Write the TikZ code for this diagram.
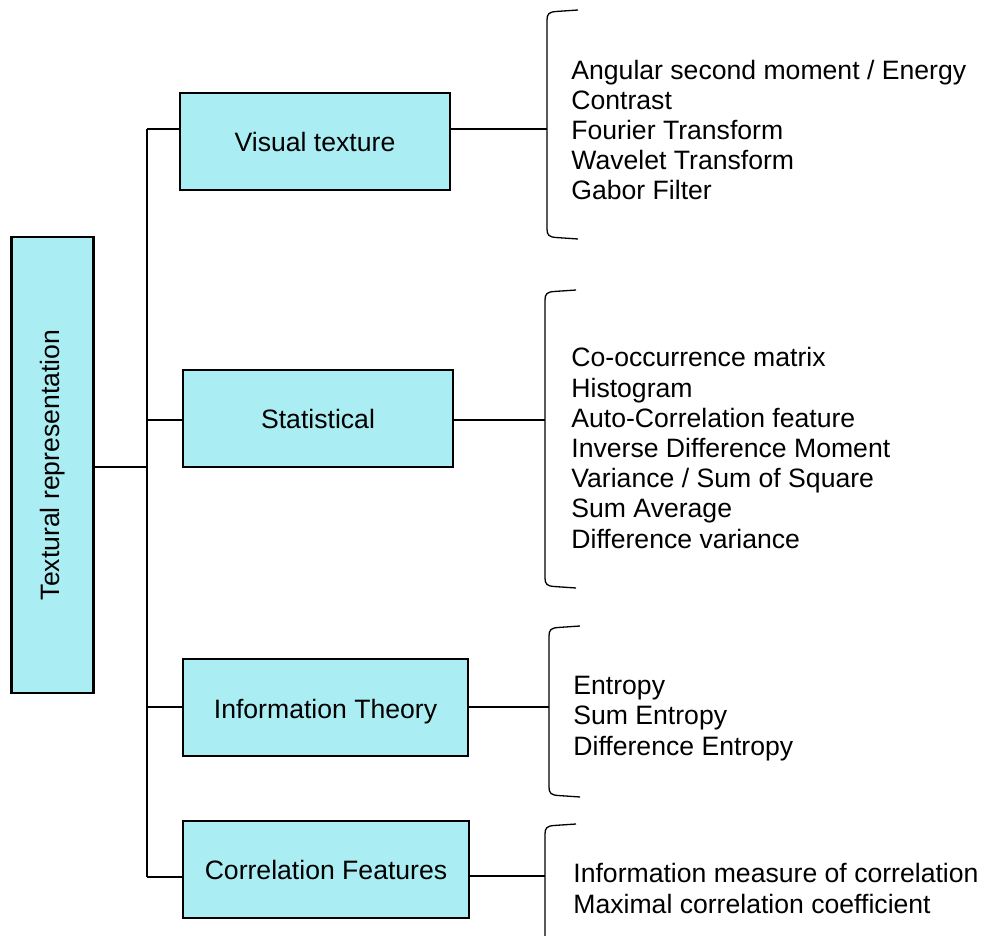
\documentclass[tikz,border=0pt]{standalone}
\usepackage{fontspec}
\setmainfont{Liberation Sans}
\definecolor{boxfill}{RGB}{170,237,243}
\newcommand{\mybrack}[3]{%
  \draw[brace] (#1+31,#2-2) -- (#1+9,#2-0.5) .. controls (#1+2,#2) and (#1,#2+2) .. (#1,#2+8)
    -- (#1,#3-8) .. controls (#1,#3-2) and (#1+2,#3) .. (#1+9,#3+0.5) -- (#1+31,#3+2);}
\tikzset{
  box/.style={draw=black,line width=1.25pt,fill=boxfill,inner sep=0pt,font=\fontsize{13.3}{15}\selectfont},
  conn/.style={line width=1pt},
  brace/.style={line width=0.65pt},
  list/.style={align=left,anchor=west,inner sep=0pt,font=\fontsize{13.3}{15.1}\selectfont}
}
\begin{document}
\begin{tikzpicture}[x=0.5pt,y=-0.5pt]
\useasboundingbox (0,0) rectangle (981,936);
% boxes
\node[box,minimum width=41pt,minimum height=228pt] (root) at (52.5,465) {\rotatebox{90}{Textural representation}};
\node[box,minimum width=135pt,minimum height=48.5pt] (vis) at (315,141.5) {Visual texture};
\node[box,minimum width=135pt,minimum height=48.5pt] (stat) at (318,418.5) {Statistical};
\node[box,minimum width=142.5pt,minimum height=48.5pt,text depth=0pt] (info) at (325.5,707.5) {\raisebox{-1pt}{Information Theory}};
\node[box,minimum width=143pt,minimum height=48.5pt] (corr) at (326,869.5) {Correlation Features};
% trunk coordinates
\coordinate (t1) at (147,129);
\coordinate (t2) at (147,420);
\coordinate (t3) at (147,707);
\coordinate (t4) at (147,877);
\coordinate (tr) at (147,467);
% bracket midpoints
\coordinate (b1) at (547,129);
\coordinate (b2) at (545,420);
\coordinate (b3) at (549,707);
\coordinate (b4) at (545,876);
% connectors
\draw[conn] (t1) -- (t4);
\draw[conn] (root.east |- tr) -- (tr);
\draw[conn] (t1) -- (vis.west |- t1);
\draw[conn] (t2) -- (stat.west |- t2);
\draw[conn] (t3) -- (info.west |- t3);
\draw[conn] (t4) -- (corr.west |- t4);
\draw[conn] (vis.east |- b1) -- (b1);
\draw[conn] (stat.east |- b2) -- (b2);
\draw[conn] (info.east |- b3) -- (b3);
\draw[conn] (corr.east |- b4) -- (b4);
% brackets
\mybrack{547}{12}{237}
\mybrack{545}{292}{586}
\mybrack{549}{628}{795}
\draw[brace] (576,824) -- (554,825.5) .. controls (547,826) and (545,828) .. (545,834) -- (545,940);
% lists
\node[list] (l1) at (571,130) {Angular second moment / Energy\\Contrast\\Fourier Transform\\Wavelet Transform\\Gabor Filter};
\node[list] (l2) at (571,448) {Co-occurrence matrix\\Histogram\\Auto-Correlation feature\\Inverse Difference Moment\\Variance / Sum of Square\\Sum Average\\Difference variance};
\node[list] (l3) at (573,718.5) {Entropy\\Sum Entropy\\Difference Entropy};
\node[list] (l4) at (573,888.5) {Information measure of correlation\\Maximal correlation coefficient};
\end{tikzpicture}
\end{document}
